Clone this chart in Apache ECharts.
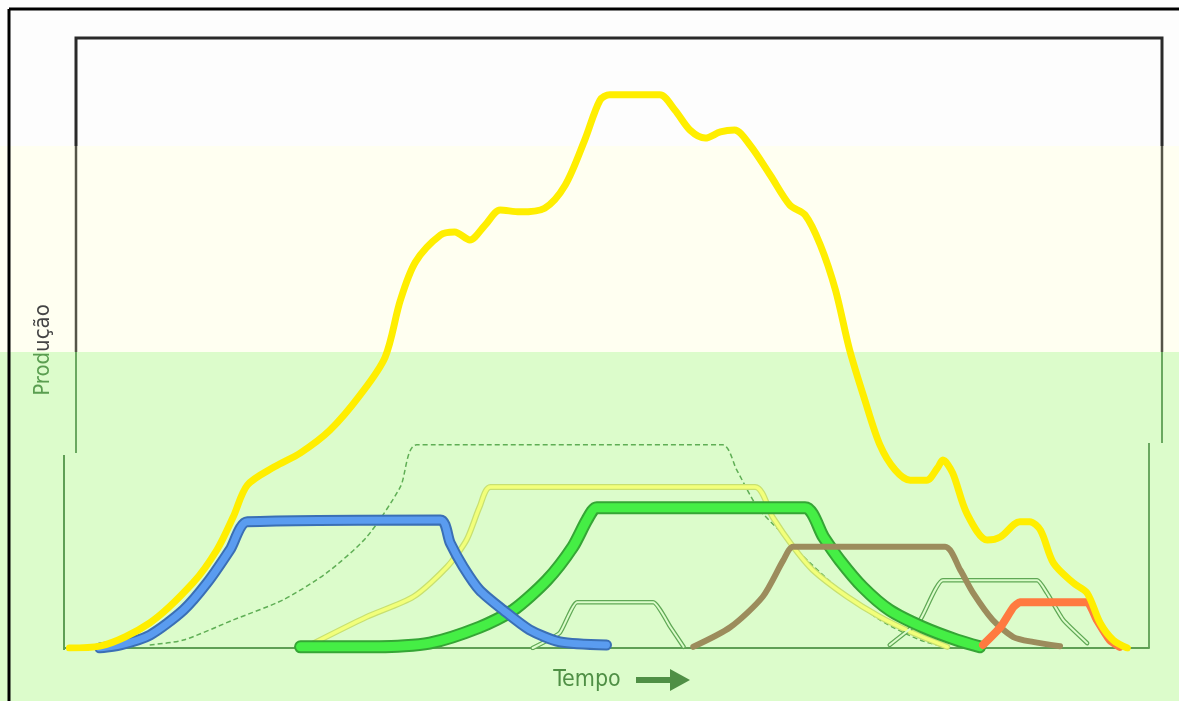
<!DOCTYPE html>
<html><head><meta charset="utf-8">
<script src="https://cdn.jsdelivr.net/npm/echarts@6/dist/echarts.min.js"></script>
<style>html,body{margin:0;padding:0;background:#dcfccb;}#c{width:1179px;height:701px;}</style>
</head><body><div id="c"></div>
<script>
// values: [time (0-100), production (0-100)]
const total = [[0.5,0],[3.3,0.3],[7.9,4.1],[11.9,10.7],[14.1,16.1],[15.6,21.5],[16.9,26.7],[19.4,29.7],[21.8,32.0],[24.5,35.7],[27.3,41.5],[29.6,47.7],[31.0,57.0],[32.4,63.3],[34.7,67.7],[36.0,68.2],[37.4,66.9],[38.8,69.3],[40.2,71.8],[42.0,71.5],[44.3,72.1],[46.2,75.9],[48.0,83.3],[49.4,89.8],[50.3,90.7],[54.9,90.7],[56.3,88.2],[57.7,84.9],[59.1,83.6],[60.5,84.6],[61.8,84.9],[63.2,82.5],[65.1,77.5],[66.9,72.6],[68.3,71.0],[69.7,66.1],[71.1,58.7],[72.4,48.9],[73.8,40.7],[75.2,33.3],[76.6,29.2],[78.0,27.5],[79.5,27.5],[80.5,29.5],[81.0,30.8],[81.9,28.7],[83.2,22.1],[85.1,17.7],[86.3,18.2],[88.1,20.7],[89.0,20.7],[90.0,19.3],[91.2,13.9],[93.0,10.7],[94.3,9.0],[95.5,4.1],[96.7,1.3],[98.0,0]];
const fieldBlue = [[3.3,0],[5.2,0.5],[7.9,2.1],[11.0,6.2],[13.2,10.7],[15.3,16.1],[16.9,20.7],[34.7,21.0],[35.6,17.2],[36.8,13.3],[38.3,9.5],[40.5,6.2],[42.9,3.0],[45.7,1.0],[50.0,0.5]];
const fieldDashed = [[7.9,0.5],[11.0,1.3],[15.6,4.6],[20.2,7.9],[24.2,12.3],[27.9,18.2],[31.0,26.4],[32.5,33.3],[60.7,33.3],[62.0,29.2],[63.9,23.1],[65.9,19.3],[67.8,15.6],[71.5,9.5],[75.2,4.6],[78.9,1.3],[81.7,0]];
const fieldLightYellow = [[22.7,0.5],[27.9,5.1],[32.2,8.4],[35.3,13.3],[37.1,17.7],[38.3,23.1],[39.3,26.4],[63.7,26.4],[65.3,21.5],[67.2,16.6],[69.0,12.8],[72.2,8.4],[75.2,5.1],[78.2,2.5],[81.4,0.2]];
const fieldGreen = [[21.8,0.2],[29.1,0.2],[33.7,0.8],[38.3,3.4],[41.4,6.2],[44.5,11.1],[46.9,16.6],[48.2,21.0],[49.1,23.0],[68.3,23.0],[70.0,18.2],[71.5,14.4],[73.6,10.0],[76.1,6.2],[79.2,3.4],[82.3,1.3],[84.4,0.2]];
const fieldBrown = [[58.0,0.2],[61.4,3.4],[64.4,8.4],[66.3,14.4],[67.2,16.6],[81.2,16.6],[82.6,12.8],[83.8,9.0],[85.6,4.6],[87.5,1.8],[89.3,1.0],[91.8,0.3]];
const fieldSmall1 = [[43.2,0],[45.7,2.5],[47.3,7.5],[54.3,7.5],[55.9,3.4],[57.1,0.2]];
const fieldSmall2 = [[76.1,0.5],[78.9,4.6],[81.0,11.1],[89.7,11.1],[90.6,9.0],[92.1,4.6],[94.3,0.8]];
const fieldOrange = [[84.7,0.5],[86.3,3.4],[87.5,6.7],[88.1,7.5],[94.3,7.5],[95.2,4.6],[96.4,1.3],[97.3,0.2]];
const yLabel = 'Produção';
const xLabel = 'Tempo';

function line(data, color, width, z, extra, smooth) {
  return Object.assign({type:'line', data, showSymbol:false, smooth: smooth==null?0.25:smooth, z,
    lineStyle:{color, width, cap:'round', join:'round'}, silent:true, animation:false}, extra||{});
}

const chart = echarts.init(document.getElementById('c'));
chart.setOption({
  backgroundColor:'#dcfccb',
  animation:false,
  grid:{left:64, right:30, top:38, bottom:53},
  xAxis:{type:'value', min:0, max:100, axisLine:{show:true, lineStyle:{color:'#5f9f55', width:2}}, axisTick:{show:false}, axisLabel:{show:false}, splitLine:{show:false}},
  yAxis:{type:'value', min:0, max:100, axisLine:{show:false}, axisTick:{show:false}, axisLabel:{show:false}, splitLine:{show:false}},
  graphic:[
    {type:'rect', z:-10, shape:{x:0,y:0,width:1179,height:146}, style:{fill:'#fdfdfd'}, silent:true},
    {type:'rect', z:-10, shape:{x:0,y:146,width:1179,height:206}, style:{fill:'#fffff1'}, silent:true},
    {type:'line', z:-5, shape:{x1:9,y1:9,x2:9,y2:701}, style:{stroke:'#000', lineWidth:3}},
    {type:'line', z:-5, shape:{x1:9,y1:9,x2:1179,y2:9}, style:{stroke:'#000', lineWidth:3}},
    {type:'polyline', z:-5, shape:{points:[[76,146],[76,38],[1162,38],[1162,146]]}, style:{stroke:'#2a2a2a', lineWidth:3, fill:null}},
    {type:'line', z:-5, shape:{x1:76,y1:146,x2:76,y2:352}, style:{stroke:'#555548', lineWidth:2.5}},
    {type:'line', z:-5, shape:{x1:1162,y1:146,x2:1162,y2:352}, style:{stroke:'#555548', lineWidth:2.5}},
    {type:'line', z:-5, shape:{x1:76,y1:352,x2:76,y2:453}, style:{stroke:'#6aa860', lineWidth:2}},
    {type:'line', z:-5, shape:{x1:1162,y1:352,x2:1162,y2:443}, style:{stroke:'#6aa860', lineWidth:2}},
    {type:'line', z:-5, shape:{x1:64,y1:455,x2:64,y2:650}, style:{stroke:'#5f9f55', lineWidth:2}},
    {type:'line', z:-5, shape:{x1:1149,y1:443,x2:1149,y2:648}, style:{stroke:'#6aa860', lineWidth:2}},
    {type:'text', x:43, y:350, rotation:Math.PI/2, style:{text:'{g|Prod}{d|ução}', align:'center', verticalAlign:'middle',
      rich:{g:{fill:'#5a9e50', fontSize:22, fontFamily:'DejaVu Sans Condensed, Noto Sans'}, d:{fill:'#444', fontSize:22, fontFamily:'DejaVu Sans Condensed, Noto Sans'}}}},
    {type:'text', x:587, y:680, style:{text:xLabel, fill:'#4f8f45', fontSize:23, fontFamily:'DejaVu Sans Condensed, Noto Sans', align:'center', verticalAlign:'middle'}},
    {type:'line', shape:{x1:636,y1:680,x2:676,y2:680}, style:{stroke:'#4f8f45', lineWidth:6}},
    {type:'polygon', shape:{points:[[670,669],[690,680],[670,691]]}, style:{fill:'#4f8f45'}}
  ],
  series:[
    line(fieldDashed, '#5fae55', 1.5, 2, {lineStyle:{color:'#5fae55', width:1.5, type:[5,3]}}),
    line(fieldLightYellow, '#c8e070', 6, 3),
    line(fieldLightYellow, '#f2ff7a', 3.5, 4),
    line(fieldSmall1, '#5fa855', 4.5, 3, null, 0.15),
    line(fieldSmall1, '#dcfccb', 2, 4, null, 0.15),
    line(fieldSmall2, '#5fa855', 4.5, 3, null, 0.15),
    line(fieldSmall2, '#dcfccb', 2, 4, null, 0.15),
    line(fieldGreen, '#35a535', 13, 5),
    line(fieldGreen, '#45ee45', 9, 6),
    line(fieldBlue, '#3a6fb5', 11, 7),
    line(fieldBlue, '#5a9cf0', 7, 8),
    line(fieldBrown, '#9c8c5c', 6, 9),
    line(fieldOrange, '#ff7a40', 8, 10, null, 0.15),
    line(total, '#ffee00', 7, 12, null, 0.3)
  ]
});
</script>
</body></html>
